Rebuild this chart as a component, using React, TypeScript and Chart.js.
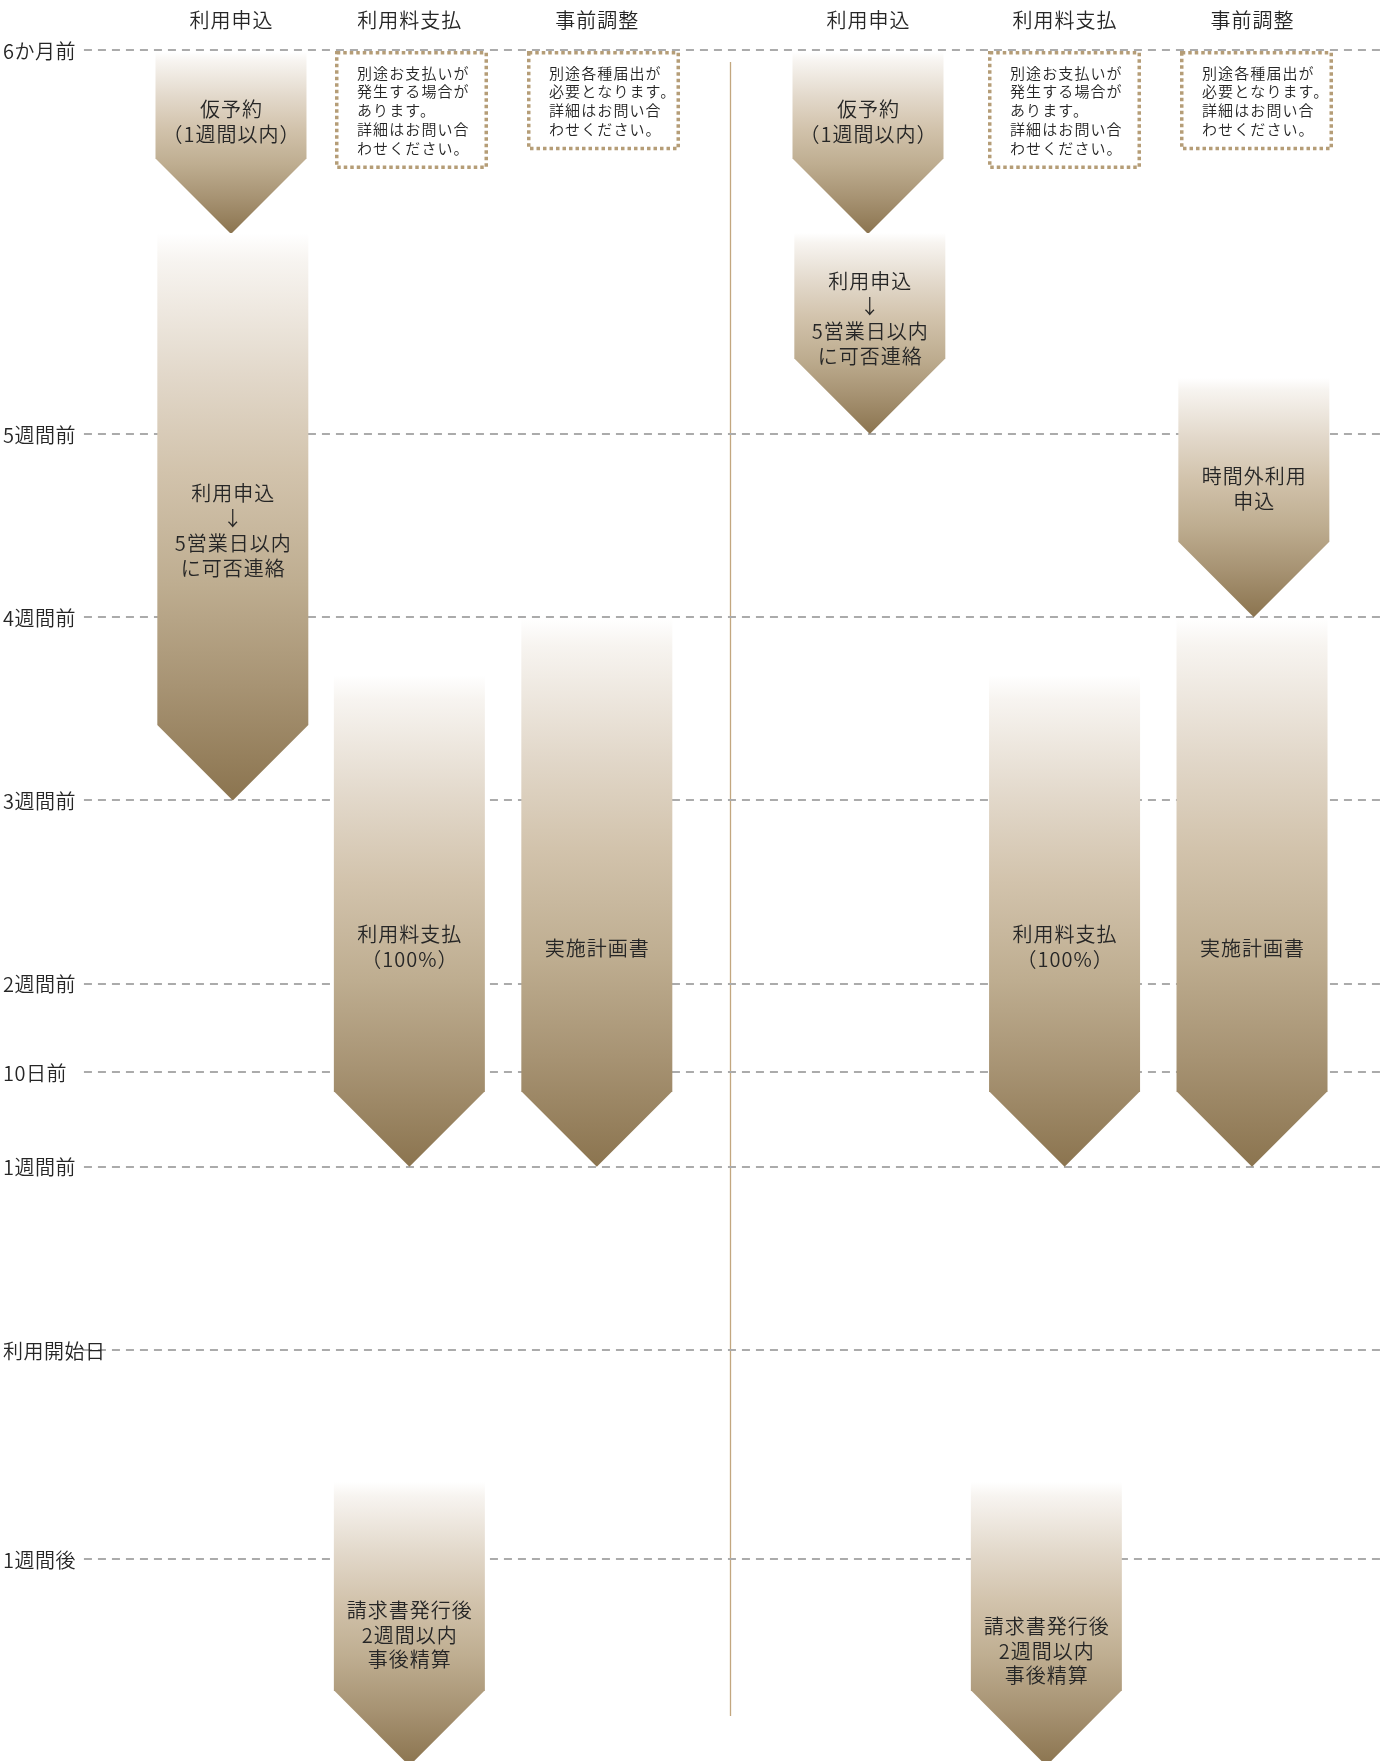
import React, { useEffect, useRef } from 'react';
import { Chart, registerables } from 'chart.js';

Chart.register(...registerables);

const W = 1394;
const H = 1761;

// ---- Time axis (y): tick labels and their positions on the timeline (weeks relative to 利用開始日)
const tickLabels = ['6か月前', '5週間前', '4週間前', '3週間前', '2週間前', '10日前', '1週間前', '利用開始日', '1週間後'];
const tickValues = [-7.096, -5, -4, -3, -2, -1.517, -1, 0, 1.141];

// ---- Lanes (x): column headers and lane positions
const columnLabels = ['利用申込', '利用料支払', '事前調整', '利用申込', '利用料支払', '事前調整'];
const columnLanes = [1, 1.98, 3.01, 4.5, 5.58, 6.61];

// ---- Arrows (floating bars): lane, start, end (tip), text, text centre
const arrowLane = [1, 1.01, 1.98, 1.98, 3.01, 4.5, 4.51, 5.58, 5.48, 6.62, 6.61];
const arrowStart = [-7.085, -6.097, -3.684, 0.72, -3.996, -7.085, -6.097, -3.684, 0.72, -5.306, -3.996];
const arrowEnd = [-6.092, -3.0, -1.0, 2.27, -1.0, -6.092, -5.0, -1.0, 2.27, -4.0, -1.0];
const arrowText = [
  ['仮予約', '（1週間以内）'],
  ['利用申込', '↓', '5営業日以内', 'に可否連絡'],
  ['利用料支払', '（100%）'],
  ['請求書発行後', '2週間以内', '事後精算'],
  ['実施計画書'],
  ['仮予約', '（1週間以内）'],
  ['利用申込', '↓', '5営業日以内', 'に可否連絡'],
  ['利用料支払', '（100%）'],
  ['請求書発行後', '2週間以内', '事後精算'],
  ['時間外利用', '申込'],
  ['実施計画書'],
];
const arrowTextAt = [-6.71, -4.476, -2.205, 1.55, -2.2, -6.71, -5.633, -2.205, 1.638, -4.705, -2.2];

// ---- Notes (dotted boxes)
const noteLanes = [1.99, 3.044, 5.58, 6.637];
const noteTexts = [
  ['別途お支払いが', '発生する場合が', 'あります。', '詳細はお問い合', 'わせください。'],
  ['別途各種届出が', '必要となります。', '詳細はお問い合', 'わせください。'],
  ['別途お支払いが', '発生する場合が', 'あります。', '詳細はお問い合', 'わせください。'],
  ['別途各種届出が', '必要となります。', '詳細はお問い合', 'わせください。'],
];

// ---- Divider & grid extents (lane units / timeline units)
const dividerLane = 3.742;
const dividerFrom = -7.031;
const dividerTo = 1.998;
const gridFrom = 0.192;
const gridTo = 7.324;

const FONT = '"Noto Sans CJK JP", "Noto Sans", sans-serif';
const TEXT = '#262626';
const WEIGHT = '350';

function setSpacing(ctx: any, px: number) {
  if ('letterSpacing' in ctx) ctx.letterSpacing = px + 'px';
}

const timelinePlugin = {
  id: 'timeline',
  beforeDatasetsDraw(chart: any) {
    const { ctx, chartArea } = chart;
    const xs = chart.scales.x;
    const ys = chart.scales.y;
    ctx.save();
    // vertical divider
    const dx = Math.round(xs.getPixelForValue(dividerLane)) + 0.5;
    ctx.strokeStyle = '#c3a77f';
    ctx.lineWidth = 1.3;
    ctx.beginPath();
    ctx.moveTo(dx, ys.getPixelForValue(dividerFrom));
    ctx.lineTo(dx, ys.getPixelForValue(dividerTo));
    ctx.stroke();

    // dashed grid lines
    ctx.setLineDash([8, 6]);
    ctx.strokeStyle = '#ababab';
    ctx.lineWidth = 2;
    const gx0 = xs.getPixelForValue(gridFrom);
    const gx1 = xs.getPixelForValue(gridTo);
    tickValues.forEach((v) => {
      const py = Math.round(ys.getPixelForValue(v));
      ctx.beginPath();
      ctx.moveTo(gx0, py);
      ctx.lineTo(gx1, py);
      ctx.stroke();
    });
    ctx.setLineDash([]);

    // tick labels
    ctx.fillStyle = TEXT;
    ctx.font = `${WEIGHT} 20px ${FONT}`;
    setSpacing(ctx, 0.5);
    ctx.textAlign = 'left';
    ctx.textBaseline = 'middle';
    tickLabels.forEach((t, i) => {
      ctx.fillText(t, chartArea.left + 3, ys.getPixelForValue(tickValues[i]) + 1);
    });
    ctx.restore();
  },
  afterDatasetsDraw(chart: any) {
    const { ctx } = chart;
    const xs = chart.scales.x;
    const ys = chart.scales.y;
    const meta = chart.getDatasetMeta(0);
    ctx.save();

    // chevron arrows
    meta.data.forEach((el: any, i: number) => {
      const cx = el.x;
      const w = el.width;
      const top = ys.getPixelForValue(arrowStart[i]);
      const tip = ys.getPixelForValue(arrowEnd[i]);
      const h = w / 2;
      const g = ctx.createLinearGradient(0, top, 0, tip);
      g.addColorStop(0, '#ffffff');
      g.addColorStop(0.05, '#f7f4f0');
      g.addColorStop(0.25, '#e2d8ca');
      g.addColorStop(0.42, '#d2c3ac');
      g.addColorStop(0.62, '#bead90');
      g.addColorStop(0.8, '#a79373');
      g.addColorStop(1, '#8b744f');
      ctx.fillStyle = g;
      ctx.beginPath();
      ctx.moveTo(cx - w / 2, top);
      ctx.lineTo(cx + w / 2, top);
      ctx.lineTo(cx + w / 2, tip - h);
      ctx.lineTo(cx, tip);
      ctx.lineTo(cx - w / 2, tip - h);
      ctx.closePath();
      ctx.fill();
    });

    // arrow texts
    ctx.fillStyle = TEXT;
    ctx.font = `${WEIGHT} 20px ${FONT}`;
    setSpacing(ctx, 1);
    ctx.textAlign = 'center';
    ctx.textBaseline = 'middle';
    const lh = 24.8;
    meta.data.forEach((el: any, i: number) => {
      const lines = arrowText[i];
      const cy = ys.getPixelForValue(arrowTextAt[i]);
      const y0 = cy - ((lines.length - 1) * lh) / 2;
      lines.forEach((t, k) => ctx.fillText(t, el.x + 0.5, y0 + k * lh + 1));
    });

    // column headers
    const headY = ys.getPixelForValue(tickValues[0]) - 30;
    columnLabels.forEach((t, i) => {
      ctx.fillText(t, xs.getPixelForValue(columnLanes[i]) + 0.5, headY);
    });

    // notes
    const boxW = 153;
    const nlh = 18.75;
    const boxTop = ys.getPixelForValue(tickValues[0]) + 1;
    noteLanes.forEach((lane, i) => {
      const lines = noteTexts[i];
      const cx = xs.getPixelForValue(lane);
      const bx = Math.round(cx - boxW / 2);
      const bh = 40 + (lines.length - 1) * nlh + 3;
      ctx.fillStyle = '#ffffff';
      ctx.fillRect(bx, boxTop, boxW, bh);
      ctx.strokeStyle = '#b59d77';
      ctx.lineWidth = 3.5;
      ctx.setLineDash([3.5, 3]);
      ctx.strokeRect(bx + 1.75, boxTop + 1.75, boxW - 3.5, bh - 3.5);
      ctx.setLineDash([]);
      ctx.fillStyle = TEXT;
      ctx.font = `${WEIGHT} 15px ${FONT}`;
      setSpacing(ctx, 1.1);
      ctx.textAlign = 'left';
      ctx.textBaseline = 'middle';
      lines.forEach((t, k) => ctx.fillText(t, bx + 22, boxTop + 21 + k * nlh + 1));
    });
    ctx.restore();
  },
};

export default function App() {
  const ref = useRef<HTMLCanvasElement>(null);
  useEffect(() => {
    const canvas = ref.current;
    if (!canvas) return;
    const chart = new Chart(canvas, {
      type: 'bar',
      data: {
        datasets: [
          {
            data: arrowLane.map((x, i) => ({ x, y: [arrowStart[i], arrowEnd[i]] })) as any,
            backgroundColor: 'rgba(0,0,0,0)',
            borderWidth: 0,
            barThickness: 151,
          },
        ],
      },
      options: {
        responsive: false,
        animation: false,
        devicePixelRatio: 1,
        events: [],
        layout: { padding: 0 },
        plugins: { legend: { display: false }, tooltip: { enabled: false } },
        scales: {
          x: { type: 'linear', display: false, min: -0.26923, max: 7.39011, offset: false, grid: { offset: false } },
          y: { type: 'linear', display: false, min: -7.369, max: 2.2434, reverse: true },
        },
      } as any,
      plugins: [timelinePlugin],
    });
    return () => chart.destroy();
  }, []);
  return (
    <div style={{ position: 'absolute', left: 0, top: 0, width: W, height: H, background: '#ffffff' }}>
      <canvas ref={ref} width={W} height={H} style={{ display: 'block', width: W, height: H }} />
    </div>
  );
}
